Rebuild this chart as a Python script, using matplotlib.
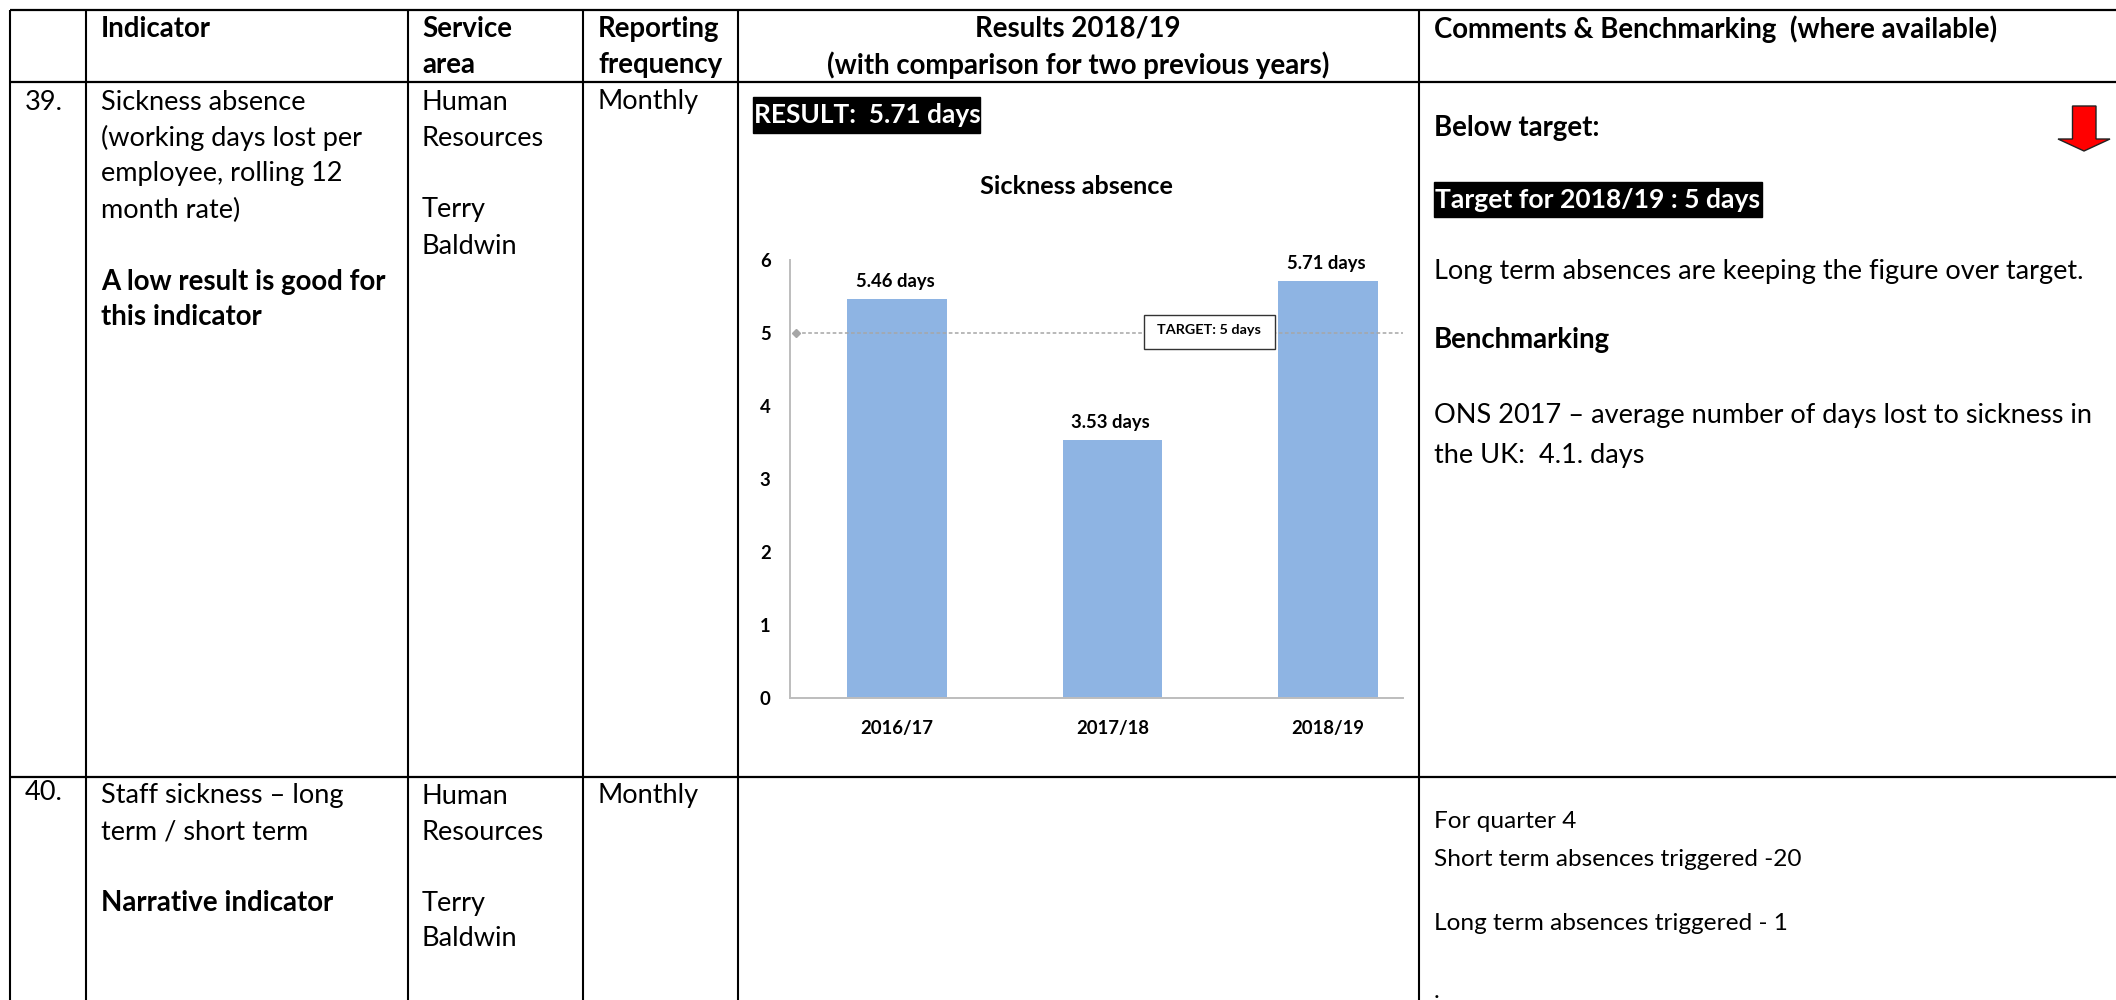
import matplotlib
matplotlib.use("Agg")
import matplotlib.pyplot as plt
from matplotlib.patches import Rectangle, Polygon

plt.rcParams['font.family'] = ['Lato', 'DejaVu Sans']

years = ["2016/17", "2017/18", "2018/19"]
days_lost = [5.46, 3.53, 5.71]
target = 5
y_ticks = [0, 1, 2, 3, 4, 5, 6]

BLUE = "#8EB4E3"
GREY = "#BDBDBD"
BODY = 19.5
BOLD = 19.9
SMALL = 17.6
CHART = 13.3

fig = plt.figure(figsize=(21.16, 10), dpi=100, facecolor="white")

# bar chart inside the results cell
ax = fig.add_axes([790 / 2116, (1000 - 698) / 1000, 613 / 2116, 438 / 1000])
ax.bar(range(3), days_lost, width=0.464, color=BLUE, zorder=2)
ax.set_xlim(-0.4965, 2.348)
ax.set_ylim(0, 6)
ax.plot([-0.47, 2.348], [target, target], color="#A6A6A6", lw=1.1,
        ls=(0, (2.4, 1.6)), zorder=3)
ax.plot([-0.47], [target], marker="D", ms=3.6, color="#A6A6A6", zorder=3)
for s in ["top", "right"]:
    ax.spines[s].set_visible(False)
for s in ["left", "bottom"]:
    ax.spines[s].set_color(GREY)
    ax.spines[s].set_linewidth(1.4)
ax.set_xticks(range(3))
ax.set_xticklabels(years, fontweight="bold", fontsize=CHART)
ax.set_yticks(y_ticks)
ax.set_yticklabels([str(t) for t in y_ticks], fontweight="bold", fontsize=CHART)
ax.tick_params(axis="both", length=0)
ax.tick_params(axis="x", pad=16)
ax.tick_params(axis="y", pad=14)
for i, v in enumerate(days_lost):
    ax.annotate(f"{v} days", (i, v), xytext=(-2, 18), textcoords="offset pixels",
                ha="center", va="center", fontweight="bold", fontsize=CHART)

# table grid and text sit on a full-figure axes in pixel units
page = fig.add_axes([0, 0, 1, 1], facecolor="none")
page.set_xlim(0, 2116)
page.set_ylim(1000, 0)
page.axis("off")

for y in [10, 82, 777]:
    page.plot([10, 2116], [y, y], color="black", lw=1.6, solid_capstyle="butt")
for x in [10, 86, 408, 583, 738, 1419]:
    page.plot([x, x], [10, 1000], color="black", lw=1.5, solid_capstyle="butt")


def put(x, y, s, bold=False, size=None, color="black", ha="left"):
    if size is None:
        size = BOLD if bold else BODY
    page.text(x, y, s, fontsize=size, color=color, ha=ha, va="center",
              fontweight="bold" if bold else "normal")


# header row
put(101, 29, "Indicator", True)
put(422, 29, "Service", True)
put(422, 65, "area", True)
put(598, 29, "Reporting", True)
put(598, 65, "frequency", True)
put(1078, 29, "Results 2018/19", True, ha="center")
put(1078, 65, "(with comparison for two previous years)", True, ha="center")
put(1434, 29, "Comments & Benchmarking  (where available)", True)

# row 39
put(25, 102, "39.")
put(101, 102, "Sickness absence")
put(101, 138, "(working days lost per")
put(101, 174, "employee, rolling 12")
put(101, 210, "month rate)")
put(101, 282, "A low result is good for", True)
put(101, 317, "this indicator", True)
put(422, 102, "Human")
put(422, 138, "Resources")
put(422, 210, "Terry")
put(422, 246, "Baldwin")
put(598, 102, "Monthly")

page.add_patch(Rectangle((753, 97), 227, 36, color="black"))
put(754, 115, "RESULT:  5.71 days", True, size=18.9, color="white")
put(1076, 186, "Sickness absence", True, size=18.2, ha="center")

page.add_patch(Rectangle((1144, 315), 131, 34, facecolor="white", edgecolor="#333333", lw=1))
put(1209, 330, f"TARGET: {target} days", True, size=10.4, ha="center")

put(1434, 128, "Below target:", True)
page.add_patch(Rectangle((1434, 182), 328, 35, color="black"))
put(1435, 200, "Target for 2018/19 : 5 days", True, size=19.1, color="white")
put(1434, 272, "Long term absences are keeping the figure over target.")
put(1434, 340, "Benchmarking", True)
put(1434, 416, "ONS 2017 \u2013 average number of days lost to sickness in")
put(1434, 456, "the UK:  4.1. days")

# down arrow marking the result as below target
page.add_patch(Polygon([(2072.5, 106), (2096, 106), (2096, 139), (2110, 139),
                        (2084, 151), (2058, 139), (2072.5, 139)],
                       facecolor="#FF0000", edgecolor="#222222", lw=1))

# row 40
put(25, 793, "40.")
put(101, 796, "Staff sickness \u2013 long")
put(101, 832, "term / short term")
put(101, 903, "Narrative indicator", True)
put(422, 796, "Human")
put(422, 832, "Resources")
put(422, 903, "Terry")
put(422, 939, "Baldwin")
put(598, 796, "Monthly")
put(1434, 821, "For quarter 4", size=SMALL)
put(1434, 859, "Short term absences triggered -20", size=SMALL)
put(1434, 923, "Long term absences triggered - 1", size=SMALL)
put(1434, 992, ".", size=SMALL)

fig.savefig("out.png", dpi=100)
